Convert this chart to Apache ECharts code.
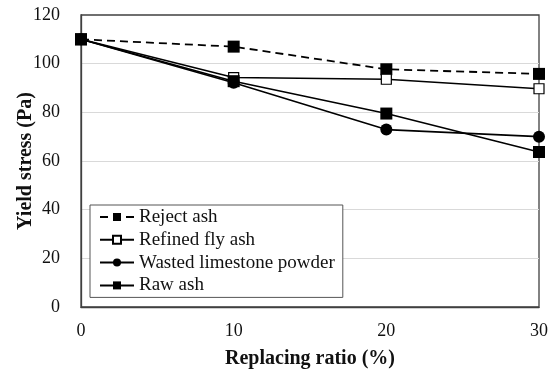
<!DOCTYPE html>
<html><head><meta charset="utf-8">
<script src="https://cdn.jsdelivr.net/npm/echarts@6/dist/echarts.min.js"></script>
<style>html,body{margin:0;padding:0;background:#fff}#c{width:553px;height:371px}</style>
</head><body><div id="c"></div>
<script>
var xValues = [0, 10, 20, 30];
var rejectAsh = [110, 107, 97.7, 95.8];
var refinedFlyAsh = [110, 94.3, 93.6, 89.7];
var wastedLimestone = [110, 92.2, 72.9, 70.0];
var rawAsh = [110, 92.8, 79.5, 63.7];
var seriesNames = ['Reject ash', 'Refined fly ash', 'Wasted limestone powder', 'Raw ash'];

function pairs(vals) { return xValues.map(function (x, i) { return [x, vals[i]]; }); }
var F = '"Liberation Serif", "Times New Roman", serif';
var chart = echarts.init(document.getElementById('c'));
chart.setOption({
  animation: false,
  backgroundColor: '#fff',
  grid: { left: 81, right: 14, top: 15, bottom: 64, show: true, borderColor: '#404040', borderWidth: 1.3, outerBoundsMode: 'none', containLabel: false },
  legend: {
    orient: 'vertical', left: 90, top: 205,
    padding: [1, 8, 1, 9],
    itemWidth: 34, itemHeight: 10, itemGap: 0.8,
    borderColor: '#555', borderWidth: 1, borderRadius: 0,
    backgroundColor: '#fff',
    textStyle: { fontFamily: F, fontSize: 19, color: '#111', lineHeight: 22 },
    data: seriesNames
  },
  xAxis: {
    type: 'value', min: 0, max: 30, interval: 10,
    name: 'Replacing ratio (%)', nameLocation: 'middle', nameGap: 42, nameMoveOverlap: false,
    nameTextStyle: { fontFamily: F, fontSize: 20, fontWeight: 'bold', color: '#111' },
    axisLine: { show: true, lineStyle: { color: '#404040', width: 1.3 } },
    axisTick: { show: false },
    splitLine: { show: false },
    axisLabel: { fontFamily: F, fontSize: 18, color: '#111', margin: 15 }
  },
  yAxis: {
    type: 'value', min: 0, max: 120, interval: 20,
    name: 'Yield stress (Pa)', nameLocation: 'middle', nameGap: 45, nameMoveOverlap: false,
    nameTextStyle: { fontFamily: F, fontSize: 20, fontWeight: 'bold', color: '#111' },
    axisLine: { show: true, lineStyle: { color: '#404040', width: 1.3 } },
    axisTick: { show: false },
    splitLine: { show: true, showMaxLine: false, showMinLine: false, lineStyle: { color: '#d9d9d9', width: 1 } },
    axisLabel: { fontFamily: F, fontSize: 18, color: '#111', margin: 21 }
  },
  series: [
    { name: seriesNames[0], type: 'line', data: pairs(rejectAsh), symbol: 'rect', symbolSize: 12,
      lineStyle: { color: '#000', width: 1.8, type: [8, 5] }, itemStyle: { color: '#000' } },
    { name: seriesNames[1], type: 'line', data: pairs(refinedFlyAsh), symbol: 'rect', symbolSize: 10,
      lineStyle: { color: '#000', width: 1.6 }, itemStyle: { color: '#fff', borderColor: '#000', borderWidth: 1.2 } },
    { name: seriesNames[2], type: 'line', data: pairs(wastedLimestone), symbol: 'circle', symbolSize: 12,
      lineStyle: { color: '#000', width: 1.6 }, itemStyle: { color: '#000' } },
    { name: seriesNames[3], type: 'line', data: pairs(rawAsh), symbol: 'rect', symbolSize: 12,
      lineStyle: { color: '#000', width: 1.6 }, itemStyle: { color: '#000' } }
  ]
});
</script></body></html>
